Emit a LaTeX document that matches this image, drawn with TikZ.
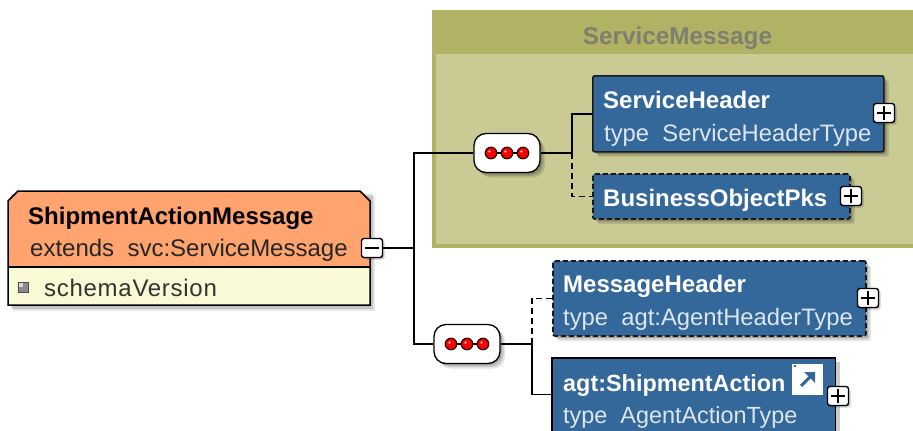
\documentclass[tikz,border=0pt]{standalone}
\usepackage{fontspec}
\setmainfont{Liberation Sans}
\usetikzlibrary{shadows,calc}
\definecolor{orangeHead}{HTML}{FFA36F}
\definecolor{creamBody}{HTML}{F9F9D5}
\definecolor{olive}{HTML}{B2B265}
\definecolor{oliveBody}{HTML}{CACA95}
\definecolor{blueBox}{HTML}{34679A}
\definecolor{subText}{HTML}{DCE6F0}
\definecolor{groupText}{HTML}{7F7F6F}
\tikzset{
  softshadow/.style={
    general shadow={fill=black,opacity=.10,shadow xshift=5pt,shadow yshift=-5pt},
    general shadow={fill=black,opacity=.12,shadow xshift=3.5pt,shadow yshift=-3.5pt},
    general shadow={fill=black,opacity=.14,shadow xshift=2pt,shadow yshift=-2pt}},
  elbox/.style={draw=black!90,line width=1.6pt,fill=blueBox,rounded corners=2pt,inner sep=0pt,anchor=north west,softshadow},
  optbox/.style={elbox,dash pattern=on 5pt off 3pt,line width=1.8pt},
  seqbox/.style={draw=black,line width=1.3pt,fill=white,rounded corners=12pt,inner sep=0pt,minimum width=66pt,minimum height=39pt,softshadow},
  togglebox/.style={draw=black,line width=1.4pt,fill=white,rounded corners=2.5pt,inner sep=0pt,minimum width=21pt,minimum height=19pt,
    general shadow={fill=black,opacity=.2,shadow xshift=2pt,shadow yshift=-2pt}},
  dotnode/.style={circle,draw=black!85!red,line width=1.2pt,fill=red,inner sep=0pt,minimum size=11.5pt},
  conn/.style={draw=black,line width=1.5pt},
  optconn/.style={conn,line width=1.7pt,dash pattern=on 6pt off 4pt},
  titleW/.style={anchor=base west,inner sep=0pt,text=white,font=\fontsize{24}{24}\selectfont\bfseries},
  subW/.style={anchor=base west,inner sep=0pt,text=subText,font=\fontsize{23.8}{24}\selectfont},
  titleK/.style={anchor=base west,inner sep=0pt,text=black,font=\fontsize{24}{24}\selectfont\bfseries},
  subK/.style={anchor=base west,inner sep=0pt,text=black!85,font=\fontsize{24}{24}\selectfont},
  glyph/.style={draw=black,line width=1.5pt}
}
\newcommand{\togglenode}[3]{%
  \node[togglebox] (#1) at (#2) {};
  \draw[glyph] ([xshift=-7pt]#1.center) -- ([xshift=7pt]#1.center);
  \ifx#3p\draw[glyph] ([yshift=-7pt]#1.center) -- ([yshift=7pt]#1.center);\fi}
\newcommand{\threedots}[3]{%
  \node[dotnode] (#1a) at (#2-16,#3) {};
  \node[dotnode] (#1b) at (#2,#3) {};
  \node[dotnode] (#1c) at (#2+16,#3) {};
  \draw[line width=1.3pt] (#1a) -- (#1b) (#1b) -- (#1c);
  \foreach \q in {a,b,c}{\fill[white!70!red] ($(#1\q.center)+(-1.5,-1.5)$) circle (1.3pt);}}
\begin{document}
\begin{tikzpicture}[x=1pt,y=-1pt]
\useasboundingbox (0,0) rectangle (913,431);
\fill[white] (0,0) rectangle (913,431);
% group
\fill[olive] (432,10) rectangle (913,248);
\fill[oliveBody] (436,54) rectangle (913,244);
\node[inner sep=0pt,text=groupText,font=\fontsize{24.3}{24}\selectfont\bfseries,anchor=base] (grouptitle) at (677.5,44) {ServiceMessage};
% main box
\fill[black,opacity=.10] (13,196) rectangle (375,311);
\fill[black,opacity=.14] (11,194) rectangle (373,309);
\fill[orangeHead] (8,201) -- (18,191) -- (360,191) -- (370,201) -- (370,267) -- (8,267) -- cycle;
\fill[creamBody] (8,267) rectangle (370,305);
\draw[draw=black,line width=1.5pt] (8,201) -- (18,191) -- (360,191) -- (370,201) -- (370,305) -- (8,305) -- cycle;
\draw[line width=1.5pt] (8,267) -- (370,267);
\node[titleK] (msgname) at (28,224) {ShipmentActionMessage};
\node[subK] (msgext) at (30,256) {extends\ \ svc:ServiceMessage};
\node[draw=black!70,line width=1pt,fill=black!45,inner sep=0pt,minimum size=10pt,
  path picture={\fill[white,opacity=.7] (path picture bounding box.north west) rectangle ++(5pt,-5pt);}] (attr) at (23,287) {};
\node[subK,text=black!80,font=\fontsize{24}{24}\selectfont\addfontfeature{LetterSpace=3}] (attrname) at (44,296) {schemaVersion};
% boxes and sequence compositors
\node[seqbox] (seqa) at (507,153) {};
\node[seqbox] (seqb) at (467,344) {};
\node[elbox,minimum width=291pt,minimum height=76pt] (hdr) at (592,75) {};
\node[optbox,minimum width=257pt,minimum height=45pt] (pks) at (592,173) {};
\node[optbox,minimum width=313pt,minimum height=75pt] (mh) at (552,260) {};
\fill[black,opacity=.2] (556,362) rectangle (840,431);
\node[anchor=north west,fill=blueBox,inner sep=0pt,minimum width=283pt,minimum height=73pt] (act) at (552,358) {};
\draw[line width=1.6pt] (act.south west) -- (act.north west) -- (act.north east) -- (act.south east);
% connectors
\togglenode{tmsg}{372,248}{m}
\coordinate (trunk) at (414,248);
\draw[conn] (tmsg.east) -- (trunk);
\draw[conn] (seqa.west) -| (trunk);
\draw[conn] (seqb.west) -| (trunk);
\coordinate (forka) at (572,153);
\coordinate (forkb) at (532,344);
\draw[conn] (seqa.east) -- (forka);
\draw[conn] (forka) |- (hdr.west);
\draw[optconn] (forka) |- (pks.west);
\draw[conn] (seqb.east) -- (forkb);
\draw[optconn] (forkb) |- (mh.west);
\draw[conn] (forkb) |- (act.west);
\threedots{da}{507}{153}
\threedots{db}{467}{344}
% element text
\node[titleW] (hdrname) at (603,108) {ServiceHeader};
\node[subW] (hdrtype) at (604,141) {type\ \ ServiceHeaderType};
\node[titleW] (pksname) at (603,206) {BusinessObjectPks};
\node[titleW] (mhname) at (563,292) {MessageHeader};
\node[subW] (mhtype) at (563,325) {type\ \ agt:AgentHeaderType};
\node[titleW,font=\fontsize{23.4}{24}\selectfont\bfseries] (actname) at (563,391) {agt:ShipmentAction};
\node[subW,font=\fontsize{23.4}{24}\selectfont] (acttype) at (563,423) {type\ \ AgentActionType};
% toggles
\togglenode{thdr}{884,113}{p}
\togglenode{tpks}{851,196}{p}
\togglenode{tmh}{868,298}{p}
\togglenode{tact}{838,396}{p}
% link icon
\node[fill=white,inner sep=0pt,minimum size=31pt] (icon) at (807.5,379) {};
\draw[blueBox,line width=3pt] (801,386) -- (811,376);
\fill[blueBox] (804,372) -- (815,372) -- (815,383) -- cycle;
\fill[blueBox] (794,365) rectangle (796,367);
\end{tikzpicture}
\end{document}
